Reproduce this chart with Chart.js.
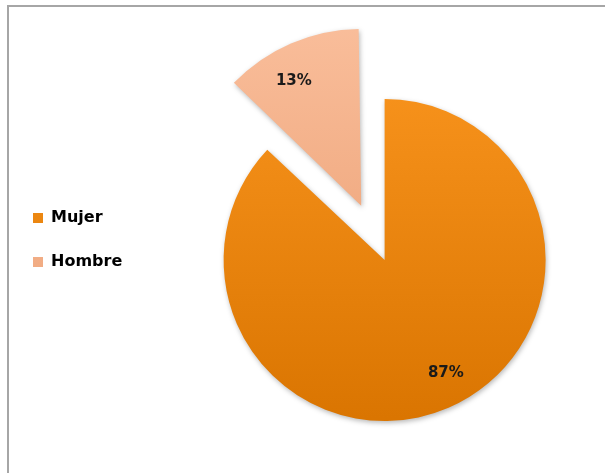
<!DOCTYPE html>
<html>
<head>
<meta charset="utf-8">
<script src="https://cdn.jsdelivr.net/npm/chart.js@4/dist/chart.umd.min.js"></script>
<style>
  html, body { margin: 0; padding: 0; background: #fff; overflow: hidden; }
  #frame {
    position: absolute; left: 7px; top: 5px; width: 660px; height: 500px;
    border-left: 2px solid #a6a6a6; border-top: 2px solid #a6a6a6;
  }
  #chart { position: absolute; left: 0; top: 0; }
</style>
</head>
<body>
<div id="frame"></div>
<canvas id="chart" width="652" height="473"></canvas>
<script>
// --- data ---
const labels = ['Mujer', 'Hombre'];
const values = [87, 13];
const pctLabels = ['87%', '13%'];

const fontFamily = "'DejaVu Sans', sans-serif";

// vertical gradient per slice
function sliceFill(ctx) {
    const c = ctx.chart.ctx;
    const g = c.createLinearGradient(0, 40, 0, 430);
    if (ctx.dataIndex === 0) {
        g.addColorStop(0, '#fb961f');
        g.addColorStop(1, '#d97400');
    } else {
        g.addColorStop(0, '#fbc19f');
        g.addColorStop(1, '#ea9d70');
    }
    return g;
}

// soft shadow under the slices + percentage inside each slice
const pctPlugin = {
    id: 'pctPlugin',
    beforeDatasetsDraw(chart) {
        const c = chart.ctx;
        c.save();
        c.shadowColor = 'rgba(0, 0, 0, 0.28)';
        c.shadowBlur = 5;
        c.shadowOffsetX = 1;
        c.shadowOffsetY = 2;
    },
    afterDatasetsDraw(chart) {
        const meta = chart.getDatasetMeta(0);
        const c = chart.ctx;
        c.restore();
        c.save();
        c.font = "bold 15px " + fontFamily;
        c.fillStyle = '#1a1a1a';
        c.textAlign = 'center';
        c.textBaseline = 'middle';
        meta.data.forEach((arc, i) => {
            const p = arc.getProps(['x', 'y', 'startAngle', 'endAngle', 'outerRadius', 'circumference']);
            const mid = (p.startAngle + p.endAngle) / 2;
            const off = (arc.options.offset || 0) / 4;
            const fix = 1 - Math.sin(Math.min(Math.PI, p.circumference || 0));
            const r = (p.outerRadius + off * fix) * 0.8;
            const a = mid - 5 * Math.PI / 180;
            const cx = p.x + Math.cos(mid) * off;
            const cy = p.y + Math.sin(mid) * off;
            c.fillText(pctLabels[i], cx + Math.cos(a) * r, cy + Math.sin(a) * r);
        });
        c.restore();
    }
};

new Chart(document.getElementById('chart'), {
    type: 'pie',
    data: {
        labels: labels,
        datasets: [{
            data: values,
            backgroundColor: sliceFill,
            borderWidth: 0,
            offset: [0, 236],
            radius: 161,
            clip: false
        }]
    },
    options: {
        responsive: false,
        animation: false,
        cutout: '0%',
        layout: { padding: { left: 5, top: 182, right: 15, bottom: 135 } },
        plugins: {
            legend: {
                position: 'left',
                align: 'start',
                labels: {
                    boxWidth: 10,
                    boxHeight: 10,
                    padding: 28,
                    color: '#000',
                    font: { family: fontFamily, size: 16, weight: 'bold' }
                }
            },
            tooltip: { enabled: false }
        }
    },
    plugins: [pctPlugin]
});
</script>
</body>
</html>
